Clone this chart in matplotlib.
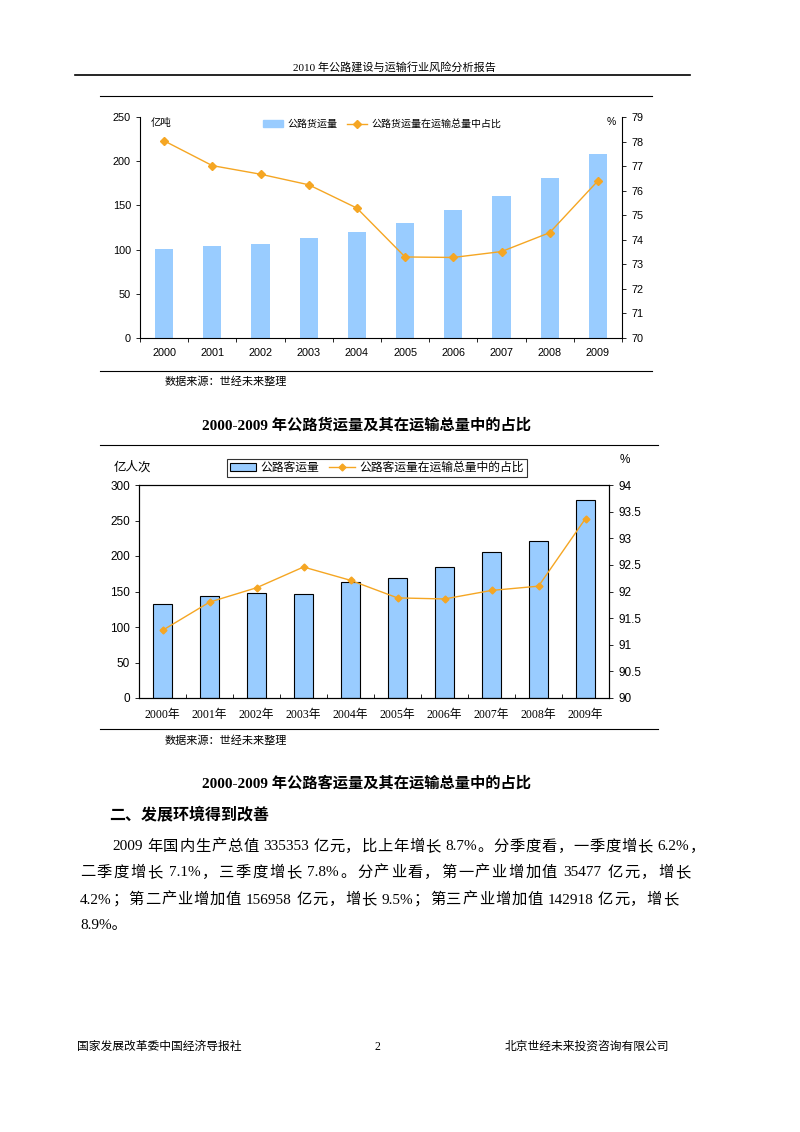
import matplotlib
matplotlib.use('Agg')
import matplotlib.pyplot as plt
from matplotlib.lines import Line2D
from matplotlib.patches import Patch
import numpy as np

# ---- data read from the page ----
years = ['2000', '2001', '2002', '2003', '2004', '2005', '2006', '2007', '2008', '2009']
years_nian = [y + '年' for y in years]

freight = [101.1, 104.1, 106.0, 112.8, 119.5, 129.7, 144.4, 160.9, 180.8, 208.6]        # 亿吨
freight_share = [78.03, 77.02, 76.67, 76.24, 75.29, 73.30, 73.28, 73.52, 74.29, 76.40]  # %

passenger = [132.4, 143.2, 147.9, 146.5, 163.0, 168.6, 184.2, 205.4, 220.9, 278.4]      # 亿人次
passenger_share = [91.27, 91.80, 92.07, 92.46, 92.21, 91.88, 91.86, 92.02, 92.10, 93.37]

W, H = 800, 1132
sans = ['Liberation Sans', 'Noto Sans CJK SC']
serif = ['Liberation Serif', 'Noto Sans CJK SC']
plt.rcParams['font.family'] = sans

BAR = '#99CCFF'
ORANGE = '#F5A623'

fig = plt.figure(figsize=(W / 100, H / 100), dpi=100)


def box(x0, y0, x1, y1):
    return [x0 / W, 1 - y1 / H, (x1 - x0) / W, (y1 - y0) / H]


def px(x, y):
    return x / W, 1 - y / H


def hline(y, x0, x1, lw=0.8, color='k'):
    fig.add_artist(Line2D([x0 / W, x1 / W], [1 - y / H, 1 - y / H], color=color, lw=lw))


# ---- header / footer ----
fig.text(*px(394, 67), '2010 年公路建设与运输行业风险分析报告', family=serif, fontsize=8,
         ha='center', va='center')
hline(74.5, 75, 690, lw=1.2)
fig.text(*px(77, 1047), '国家发展改革委中国经济导报社', family=serif, fontsize=8.5, va='center')
fig.text(*px(377, 1047), '2', family=serif, fontsize=8.5, va='center', ha='center')
fig.text(*px(669, 1047), '北京世经未来投资咨询有限公司', family=serif, fontsize=8.5, va='center', ha='right')

x = np.arange(len(years))

# ================= chart 1 : freight =================
hline(96, 100, 652, lw=0.8)
hline(371, 100, 652, lw=0.8)

ax1 = fig.add_axes(box(140, 117, 622, 338))
ax1.bar(x, freight, width=0.38, color=BAR, zorder=2)
ax1.set_xlim(-0.5, 9.5)
ax1.set_ylim(0, 250)
ax1.set_yticks(np.arange(0, 251, 50))
ax1.set_xticks(np.arange(-0.5, 10, 1))
ax1.set_xticklabels([])
ax1.set_xticks(x, minor=True)
ax1.set_xticklabels(years, minor=True, fontsize=7.8)
ax1.tick_params(axis='x', which='minor', length=0, pad=7)
ax1.tick_params(axis='x', which='major', length=3, direction='out', width=0.6)
ax1.tick_params(axis='y', length=3, direction='out', labelsize=7.8, width=0.6)
ax1.spines['top'].set_visible(False)
ax1.spines['right'].set_visible(False)
for s in ('left', 'bottom'):
    ax1.spines[s].set_linewidth(0.8)

ax1r = ax1.twinx()
ax1r.plot(x, freight_share, color=ORANGE, lw=1.0, marker='D', ms=4, zorder=3)
ax1r.set_ylim(70, 79)
ax1r.set_yticks(np.arange(70, 80, 1))
ax1r.tick_params(axis='y', length=3, direction='out', labelsize=7.8, width=0.6)
ax1r.spines['top'].set_visible(False)
ax1r.spines['left'].set_visible(False)
ax1r.spines['bottom'].set_visible(False)
ax1r.spines['right'].set_linewidth(0.8)

fig.text(*px(151, 123), '亿吨', fontsize=7.5, va='center')
fig.text(*px(607, 122), '%', fontsize=7.5, va='center')
h1 = [Patch(color=BAR), Line2D([], [], color=ORANGE, lw=1.0, marker='D', ms=4)]
ax1.legend(h1, ['公路货运量', '公路货运量在运输总量中占比'], loc='center',
           bbox_to_anchor=((382 - 140) / 482, (338 - 124) / 221), ncol=2, frameon=False,
           fontsize=7.2, handlelength=2.0, handletextpad=0.4, columnspacing=1.0)

fig.text(*px(165, 382), '数据来源：世经未来整理', family=serif, fontsize=8, va='center')
fig.text(*px(366, 425), '2000-2009 年公路货运量及其在运输总量中的占比', family=serif,
         fontsize=11, fontweight='bold', ha='center', va='center')

# ================= chart 2 : passenger =================
hline(445, 100, 658, lw=0.8)
hline(729, 100, 658, lw=0.8)

ax2 = fig.add_axes(box(139, 485, 609, 698))
ax2.bar(x, passenger, width=0.41, color=BAR, edgecolor='k', lw=0.8, zorder=2)
ax2.set_xlim(-0.5, 9.5)
ax2.set_ylim(0, 300)
ax2.set_yticks(np.arange(0, 301, 50))
ax2.set_xticks(np.arange(-0.5, 10, 1))
ax2.set_xticklabels([])
ax2.set_xticks(x, minor=True)
ax2.set_xticklabels(years_nian, minor=True, fontsize=8.5, family=serif)
ax2.tick_params(axis='x', which='minor', length=0, pad=8)
ax2.tick_params(axis='x', which='major', length=3, direction='in', width=0.6)
ax2.tick_params(axis='y', length=3, direction='out', labelsize=8.5, width=0.6)
for s in ax2.spines.values():
    s.set_linewidth(0.8)

ax2r = ax2.twinx()
ax2r.plot(x, passenger_share, color=ORANGE, lw=1.0, marker='D', ms=3.5, zorder=3)
ax2r.set_ylim(90, 94)
ax2r.set_yticks(np.arange(90, 94.01, 0.5))
ax2r.set_yticklabels(['90', '90.5', '91', '91.5', '92', '92.5', '93', '93.5', '94'])
ax2r.tick_params(axis='y', length=3, direction='out', labelsize=8.5, width=0.6)
for s in ax2r.spines.values():
    s.set_linewidth(0.8)

fig.text(*px(114, 467), '亿人次', family=serif, fontsize=9, va='center')
fig.text(*px(620, 460), '%', fontsize=8.5, va='center')
h2 = [Patch(facecolor=BAR, edgecolor='k', lw=0.8), Line2D([], [], color=ORANGE, lw=1.0, marker='D', ms=3.5)]
leg = ax2.legend(h2, ['公路客运量', '公路客运量在运输总量中的占比'], loc='center',
                 bbox_to_anchor=((377 - 139) / 470, (698 - 468) / 213), ncol=2, frameon=True,
                 fancybox=False, edgecolor='k', fontsize=8.5, handlelength=2.2,
                 handletextpad=0.4, columnspacing=0.8, borderpad=0.25,
                 prop={'family': serif, 'size': 8.5})
leg.get_frame().set_linewidth(0.8)

fig.text(*px(165, 741), '数据来源：世经未来整理', family=serif, fontsize=8, va='center')
fig.text(*px(367, 783), '2000-2009 年公路客运量及其在运输总量中的占比', family=serif,
         fontsize=11, fontweight='bold', ha='center', va='center')

# ---- body text (justified by spreading characters) ----
fig.text(*px(109, 816), '二、发展环境得到改善', family=serif, fontsize=11.5, fontweight='bold', va='center')
body = [
    (112, 705, 847, '2009 年国内生产总值 335353 亿元，比上年增长 8.7%。分季度看，一季度增长 6.2%，'),
    (80, 690, 873, '二季度增长 7.1%，三季度增长 7.8%。分产业看，第一产业增加值 35477 亿元，增长'),
    (80, 678, 900, '4.2%；第二产业增加值 156958 亿元，增长 9.5%；第三产业增加值 142918 亿元，增长'),
    (80, None, 925, '8.9%。'),
]


def tokens(s):
    out, cur = [], ''
    for ch in s:
        if ord(ch) < 128 and ch != ' ':
            cur += ch
        else:
            if cur:
                out.append(cur)
                cur = ''
            out.append(ch)
    if cur:
        out.append(cur)
    return out


renderer = fig.canvas.get_renderer()
for x0, x1, by, t in body:
    if x1 is None:
        fig.text(*px(x0, by), t, family=serif, fontsize=11, va='center')
        continue
    toks = tokens(t)
    objs = [fig.text(0, 1 - by / H, tk, family=serif, fontsize=11, va='center') for tk in toks]
    widths = [o.get_window_extent(renderer).width if tk != ' ' else 3.0 for o, tk in zip(objs, toks)]
    gap = (x1 - x0 - sum(widths)) / (len(toks) - 1)
    pos = x0
    for o, w in zip(objs, widths):
        o.set_x(pos / W)
        pos += w + gap

fig.savefig('out.png', dpi=100)
